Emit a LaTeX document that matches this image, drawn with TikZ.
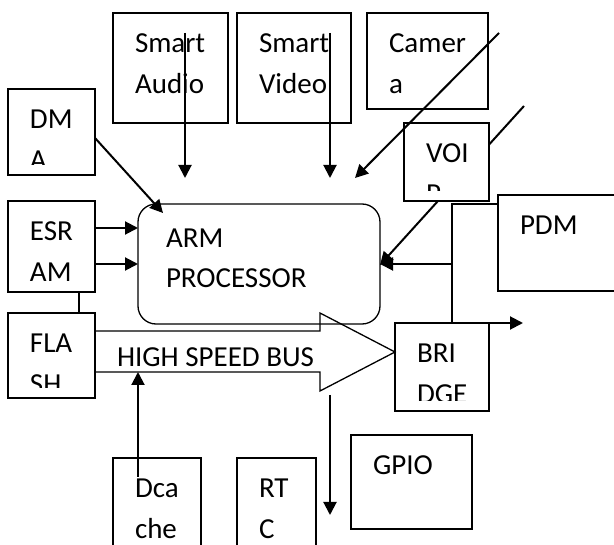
\documentclass[tikz,border=0pt]{standalone}
\usepackage{fontspec}
\setmainfont{Carlito}
\usetikzlibrary{arrows.meta}
\tikzset{
  box/.style={draw, line width=1.3pt, fill=white, inner sep=0pt, outer sep=0pt},
  roundbox/.style={box, rounded corners=18pt},
  lbl/.style={anchor=base west, inner sep=0pt, outer sep=0pt, font=\fontsize{29}{35}\selectfont},
  conn/.style={line width=2pt, -{Triangle[length=13pt,width=13pt]}},
  wire/.style={line width=2pt},
  busshape/.style={line width=1.3pt},
}
\newcommand{\mkbox}[6][box]{\node[#1, minimum width={(#5-#3)*1pt}, minimum height={(#6-#4)*1pt}] (#2) at ({(#3+#5)/2},{(#4+#6)/2}) {};}
\newcommand{\boxtext}[3]{%
  \begin{scope}
    \clip (#1.north west) rectangle ([yshift=10pt]#1.south east);
    \node[lbl] (#1-a) at ([shift={(22,40)}]#1.north west) {#2};
    \node[lbl] (#1-b) at ([shift={(22,81)}]#1.north west) {#3};
  \end{scope}}
\newcommand{\boxtextone}[2]{%
  \node[lbl] (#1-a) at ([shift={(22,40)}]#1.north west) {#2};}
\begin{document}
\begin{tikzpicture}[x=1pt,y=-1pt]
  \fill[white] (0,0) rectangle (614,545);
  \useasboundingbox (0,0) rectangle (614,545);

  % coordinates for connector ends
  \coordinate (voipS) at (524,106);
  \coordinate (armV) at (380,265);
  \coordinate (audS) at (185,33);
  \coordinate (audE) at (185,178);
  \coordinate (vidS) at (330,33);
  \coordinate (vidE) at (330,178);
  \coordinate (camS) at (499,33);
  \coordinate (camE) at (355,178);
  \coordinate (dmaS) at (95,138);
  \coordinate (dmaE) at (163,213);
  \coordinate (es1S) at (95,228);
  \coordinate (es1E) at (138,228);
  \coordinate (es2S) at (95,264);
  \coordinate (es2E) at (138,264);
  \coordinate (esF1) at (79,292);
  \coordinate (esF2) at (79,313);
  \coordinate (pdmL) at (498,204);
  \coordinate (pdmK) at (452,204);
  \coordinate (pdmJ) at (452,264);
  \coordinate (pdmB) at (452,323);
  \coordinate (armP) at (380,264);
  \coordinate (brS) at (489,323);
  \coordinate (brE) at (523,323);
  \coordinate (dcS) at (138,477);
  \coordinate (dcE) at (138,372);
  \coordinate (bdS) at (330,395);
  \coordinate (bdE) at (330,515);

  % connector passing behind the VOIP box
  \draw[conn] (voipS) -- (armV);

  % boxes
  \mkbox{audio}{113}{13}{228}{123}
  \mkbox{video}{237}{13}{351}{123}
  \mkbox{camera}{367}{13}{488}{109}
  \mkbox{dma}{8}{89}{95}{175}
  \mkbox{voip}{404}{123}{489}{201}
  \mkbox{esram}{8}{201}{95}{292}
  \mkbox{flash}{8}{313}{95}{398}
  \mkbox[roundbox]{arm}{138}{204}{380}{324}
  \mkbox{pdm}{498}{195}{625}{291}
  \mkbox{bridge}{395}{323}{489}{411}
  \mkbox{gpio}{351}{435}{472}{529}
  \mkbox{dcache}{113}{458}{201}{560}
  \mkbox{rtc}{237}{458}{316}{560}

  % high speed bus
  \draw[busshape] (95,331) coordinate (busA) -- (320,331) -- (320,313) -- (395,352) coordinate (busTip)
    -- (320,391) -- (320,372) -- (95,372) coordinate (busB);
  \node[lbl] (bustext) at (117,367) {HIGH SPEED BUS};

  % box texts
  \boxtext{audio}{Smart}{Audio}
  \boxtext{video}{Smart}{Video}
  \boxtext{camera}{Camer}{a}
  \boxtext{dma}{DM}{A}
  \boxtext{voip}{VOI}{P}
  \boxtext{esram}{ESR}{AM}
  \boxtext{flash}{FLA}{SH}
  \boxtext{bridge}{BRI}{DGE}
  \boxtext{dcache}{Dca}{che}
  \boxtext{rtc}{RT}{C}
  \boxtextone{pdm}{PDM}
  \boxtextone{gpio}{GPIO}
  \node[lbl] (arm-a) at ([shift={(28,44)}]arm.north west) {ARM};
  \node[lbl] (arm-b) at ([shift={(28,84)}]arm.north west) {PROCESSOR};

  % connectors
  \draw[conn] (audS) -- (audE);
  \draw[conn] (vidS) -- (vidE);
  \draw[conn] (camS) -- (camE);
  \draw[conn] (dmaS) -- (dmaE);
  \draw[conn] (es1S) -- (es1E);
  \draw[conn] (es2S) -- (es2E);
  \draw[wire] (esF1) -- (esF2);
  \draw[wire] (pdmL) -- (pdmK) -- (pdmB);
  \draw[conn] (pdmJ) -- (armP);
  \draw[conn] (brS) -- (brE);
  \draw[conn] (dcS) -- (dcE);
  \draw[conn] (bdS) -- (bdE);
\end{tikzpicture}
\end{document}
